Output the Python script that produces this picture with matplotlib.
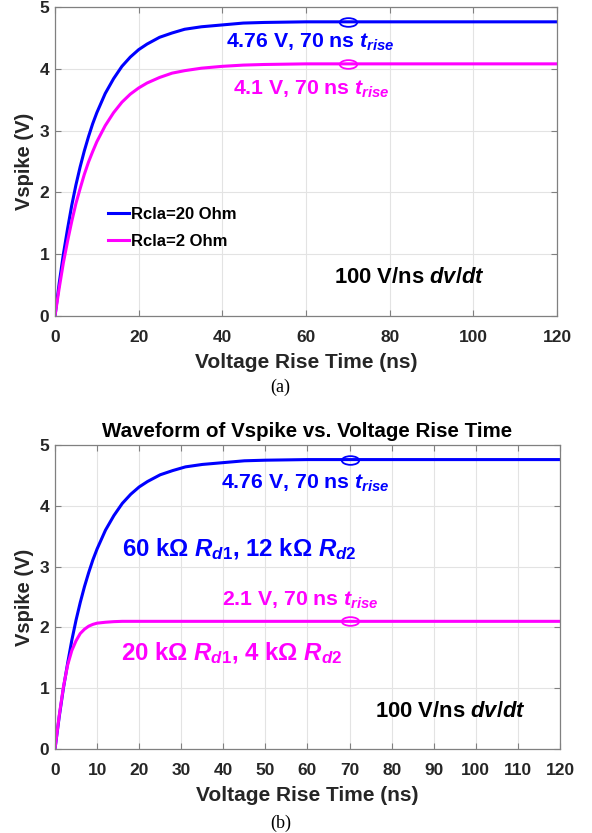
import matplotlib
matplotlib.use("Agg")
import matplotlib.pyplot as plt
from matplotlib.path import Path

plt.rcParams["font.family"] = ["Liberation Sans", "DejaVu Sans"]
plt.rcParams["font.weight"] = "bold"
plt.rcParams["axes.labelweight"] = "bold"
plt.rcParams["axes.titleweight"] = "bold"
plt.rcParams["mathtext.fontset"] = "custom"
plt.rcParams["mathtext.rm"] = "Liberation Sans:bold"
plt.rcParams["mathtext.it"] = "Liberation Sans:italic:bold"
plt.rcParams["mathtext.bf"] = "Liberation Sans:bold"

BLUE = "#0000FF"
MAG = "#FF00FF"

# voltage rise time (ns)
t = [0, 1, 2, 3, 4, 5, 6, 7, 8, 9, 10, 12, 14, 16, 18, 20, 22, 25, 28, 31,
     35, 40, 45, 50, 60, 70, 80, 90, 100, 110, 120]
# (a) Rcla sweep
v_rcla20 = [0, 0.53, 1.00, 1.41, 1.79, 2.12, 2.41, 2.67, 2.90, 3.11, 3.29, 3.60,
            3.84, 4.04, 4.19, 4.31, 4.40, 4.51, 4.58, 4.64, 4.68, 4.71, 4.74,
            4.75, 4.76, 4.76, 4.76, 4.76, 4.76, 4.76, 4.76]
v_rcla2 = [0, 0.45, 0.86, 1.21, 1.53, 1.82, 2.06, 2.29, 2.49, 2.66, 2.82, 3.08,
           3.29, 3.46, 3.59, 3.69, 3.77, 3.86, 3.93, 3.97, 4.01, 4.04, 4.06,
           4.07, 4.08, 4.08, 4.08, 4.08, 4.08, 4.08, 4.08]
# (b) Rd sweep
v_rd60 = v_rcla20
v_rd20 = [0, 0.55, 1.02, 1.38, 1.62, 1.78, 1.90, 1.97, 2.02, 2.05, 2.07, 2.085,
          2.095, 2.10, 2.10, 2.10, 2.10, 2.10, 2.10, 2.10, 2.10, 2.10, 2.10,
          2.10, 2.10, 2.10, 2.10, 2.10, 2.10, 2.10, 2.10]
T_MARK = 70

circ = Path.unit_circle()
ellipse = Path(circ.vertices * [1, 0.5], circ.codes)


def style(ax, xticks):
    ax.set_xlim(0, 120)
    ax.set_ylim(0, 5)
    ax.set_xticks(xticks)
    ax.set_yticks(range(6))
    ax.grid(True, color="#e3e3e3", lw=0.8)
    ax.set_axisbelow(True)
    for s in ax.spines.values():
        s.set_color("#808080")
        s.set_linewidth(0.9)
    ax.tick_params(direction="in", top=True, right=True, length=4,
                   color="#808080", labelsize=12.5, labelcolor="#262626")
    ax.tick_params(axis="x", pad=10)
    ax.tick_params(axis="y", pad=4)
    ax.set_xlabel("Voltage Rise Time (ns)", fontsize=15, color="#262626", labelpad=6)
    ax.set_ylabel("Vspike (V)", fontsize=14.5, color="#262626", labelpad=4)


def mark(ax, y, c):
    ax.plot([T_MARK], [y], marker=ellipse, ms=12.5, mfc="none", mec=c, mew=1.3)


fig = plt.figure(figsize=(5.92, 8.33), dpi=100)

# ---- (a)
ax1 = fig.add_axes([0.0929, 0.6206, 0.848, 0.371])
ax1.plot(t, v_rcla20, color=BLUE, lw=2.2, label="Rcla=20 Ohm")
ax1.plot(t, v_rcla2, color=MAG, lw=2.2, label="Rcla=2 Ohm")
mark(ax1, v_rcla20[t.index(T_MARK)], BLUE)
mark(ax1, v_rcla2[t.index(T_MARK)], MAG)
style(ax1, range(0, 121, 20))
ax1.text(61, 4.43, "4.76 V, 70 ns $t_{rise}$", color=BLUE, fontsize=15.3,
         ha="center", va="center")
ax1.text(61.4, 3.66, "4.1 V, 70 ns $t_{rise}$", color=MAG, fontsize=15.3,
         ha="center", va="center")
ax1.text(84.7, 0.62, "100 V/ns $dv/dt$", color="black", fontsize=15.8,
         ha="center", va="center")
ax1.legend(loc="upper left", bbox_to_anchor=(0.105, 0.352), frameon=False,
           fontsize=12, handlelength=1.25, handletextpad=0.15,
           labelspacing=0.68, borderpad=0, borderaxespad=0)

# ---- (b)
ax2 = fig.add_axes([0.0929, 0.1008, 0.853, 0.365])
ax2.plot(t, v_rd60, color=BLUE, lw=2.2)
ax2.plot(t, v_rd20, color=MAG, lw=2.2)
mark(ax2, v_rd60[t.index(T_MARK)], BLUE)
mark(ax2, v_rd20[t.index(T_MARK)], MAG)
style(ax2, range(0, 121, 10))
ax2.set_title("Waveform of Vspike vs. Voltage Rise Time", fontsize=14.8,
              color="black", pad=6)
ax2.text(59.4, 4.37, "4.76 V, 70 ns $t_{rise}$", color=BLUE, fontsize=15.3,
         ha="center", va="center")
ax2.text(43.7, 3.28, r"60 kΩ $R_{\mathit{d1}}$, 12 kΩ $R_{\mathit{d2}}$", color=BLUE,
         fontsize=17.3, ha="center", va="center")
ax2.text(58.4, 2.44, "2.1 V, 70 ns $t_{rise}$", color=MAG, fontsize=15.3,
         ha="center", va="center")
ax2.text(42, 1.57, r"20 kΩ $R_{\mathit{d1}}$, 4 kΩ $R_{\mathit{d2}}$", color=MAG,
         fontsize=17.3, ha="center", va="center")
ax2.text(93.9, 0.61, "100 V/ns $dv/dt$", color="black", fontsize=15.8,
         ha="center", va="center")

fig.text(280 / 592, 1 - 387 / 833, "(a)", family="Liberation Serif",
         weight="normal", fontsize=13, ha="center", va="center")
fig.text(281 / 592, 1 - 823 / 833, "(b)", family="Liberation Serif",
         weight="normal", fontsize=13, ha="center", va="center")

fig.savefig("out.png", dpi=100)
